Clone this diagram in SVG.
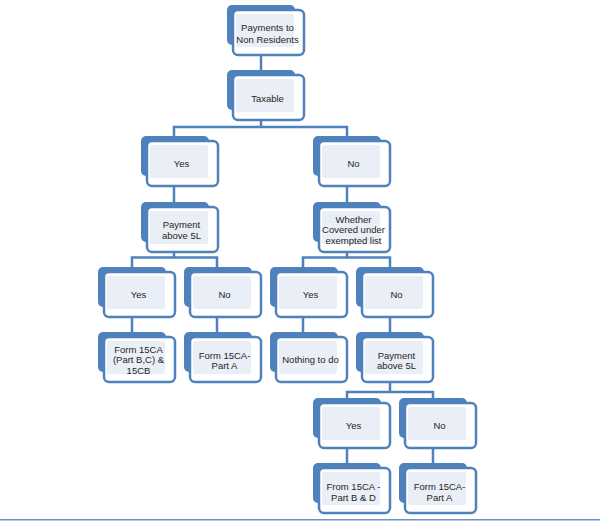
<svg xmlns="http://www.w3.org/2000/svg" xmlns:xlink="http://www.w3.org/1999/xlink" width="600" height="521" viewBox="0 0 600 521">
<style>
.back{fill:#4f81bd;}
.front{fill:#ffffff;stroke:#4f81bd;stroke-width:2.5;}
.inner{fill:#e9eef7;}
.conn{fill:none;stroke:#4f81bd;stroke-width:2.5;}
text{font-family:"Liberation Sans",Arial,sans-serif;font-size:9.5px;fill:#262626;text-anchor:middle;}
</style>
<defs>
<g id="box">
<rect class="back" x="0" y="0" width="68" height="40" rx="5"/>
<rect class="front" x="6" y="5" width="71" height="45" rx="5"/>
<rect class="inner" x="9" y="9" width="58" height="33" rx="2"/>
</g>
</defs>
<rect width="600" height="521" fill="#ffffff"/>
<g id="connectors">
<path class="conn" d="M261 55V71"/>
<path class="conn" d="M261 120V127M174 136V127H347V136"/>
<path class="conn" d="M174 186V202M347 186V202"/>
<path class="conn" d="M174 252V257.5M132 267V257.5H217V267"/>
<path class="conn" d="M347 252V257.5M303 267V257.5H390V267"/>
<path class="conn" d="M132 317V332M217 317V332M303 317V332M390 317V332"/>
<path class="conn" d="M390 382V392M347 398V392H433V398"/>
<path class="conn" d="M347 448V463M433 448V463"/>
</g>
<g id="n1" transform="translate(227,5)"><use href="#box"/><text x="40.5" y="26">Payments to</text><text x="40.5" y="37.5">Non Residents</text></g>
<g id="n2" transform="translate(227,70)"><use href="#box"/><text x="40.5" y="32">Taxable</text></g>
<g id="n3" transform="translate(141,136)"><use href="#box"/><text x="40.5" y="30.5">Yes</text></g>
<g id="n4" transform="translate(313,136)"><use href="#box"/><text x="40.5" y="30.5">No</text></g>
<g id="n5" transform="translate(141,202)"><use href="#box"/><text x="40.5" y="26">Payment</text><text x="40.5" y="36.5">above 5L</text></g>
<g id="n6" transform="translate(313,202)"><use href="#box"/><text x="40.5" y="20.5">Whether</text><text x="40.5" y="31">Covered under</text><text x="40.5" y="41.5">exempted list</text></g>
<g id="n7" transform="translate(98,267)"><use href="#box"/><text x="40.5" y="31">Yes</text></g>
<g id="n8" transform="translate(184,267)"><use href="#box"/><text x="40.5" y="31">No</text></g>
<g id="n9" transform="translate(270,267)"><use href="#box"/><text x="40.5" y="31">Yes</text></g>
<g id="n10" transform="translate(356,267)"><use href="#box"/><text x="40.5" y="31">No</text></g>
<g id="n11" transform="translate(98,332)"><use href="#box"/><text x="40.5" y="20.5">Form 15CA</text><text x="40.5" y="31">(Part B,C) &amp;</text><text x="40.5" y="41.5">15CB</text></g>
<g id="n12" transform="translate(184,332)"><use href="#box"/><text x="40.5" y="26.5">Form 15CA-</text><text x="40.5" y="37">Part A</text></g>
<g id="n13" transform="translate(270,332)"><use href="#box"/><text x="40.5" y="31">Nothing to do</text></g>
<g id="n14" transform="translate(356,332)"><use href="#box"/><text x="40.5" y="26.5">Payment</text><text x="40.5" y="37">above 5L</text></g>
<g id="n15" transform="translate(313,398)"><use href="#box"/><text x="40.5" y="30.5">Yes</text></g>
<g id="n16" transform="translate(399,398)"><use href="#box"/><text x="40.5" y="30.5">No</text></g>
<g id="n17" transform="translate(313,463)"><use href="#box"/><text x="40.5" y="27">From 15CA -</text><text x="40.5" y="37.5">Part B &amp; D</text></g>
<g id="n18" transform="translate(399,463)"><use href="#box"/><text x="40.5" y="27">Form 15CA-</text><text x="40.5" y="37.5">Part A</text></g>
<rect x="0" y="519" width="600" height="1.5" fill="#6a93c9"/>
</svg>
